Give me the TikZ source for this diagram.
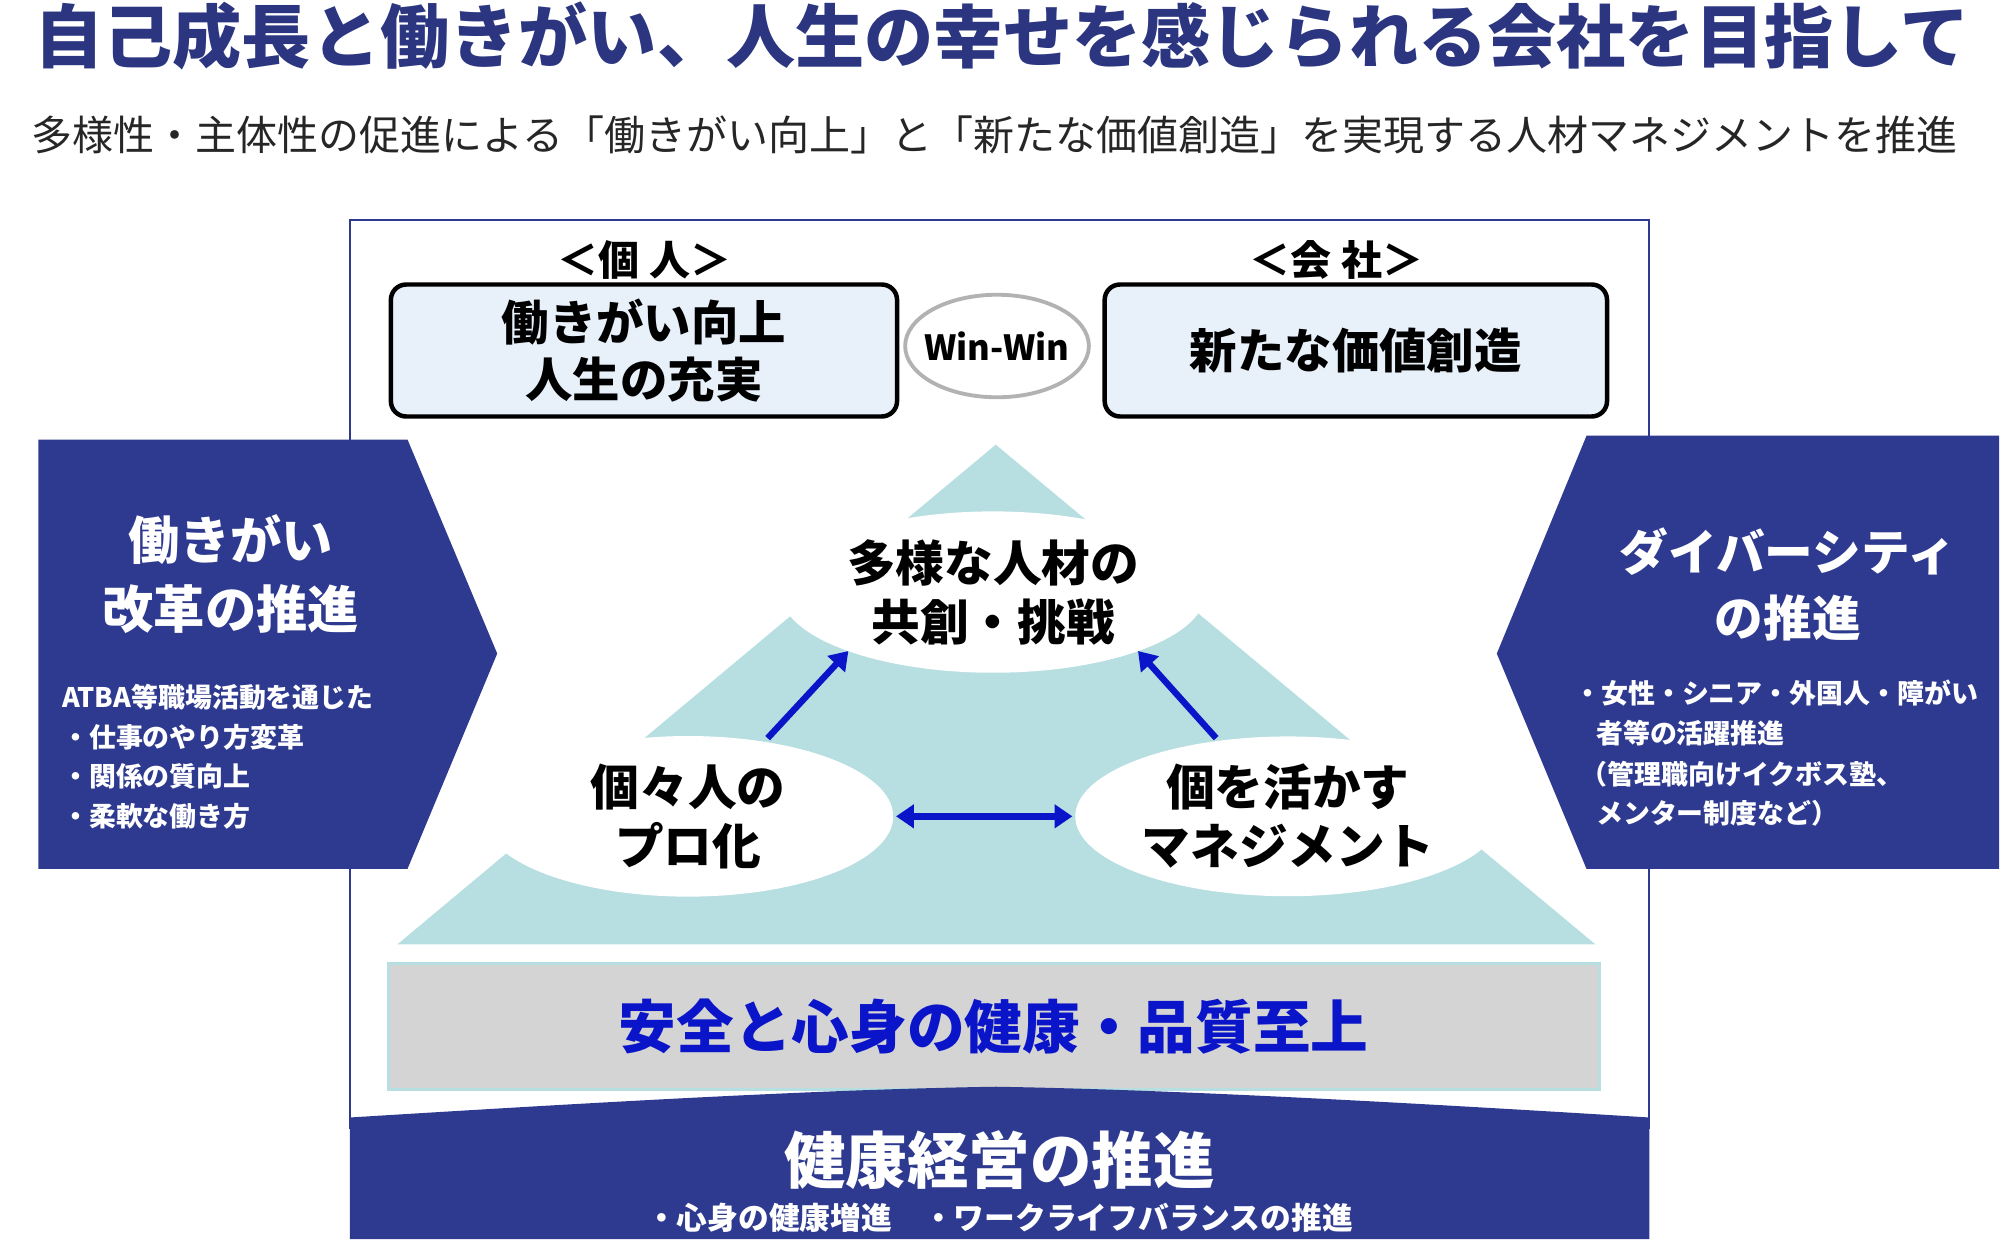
\documentclass[tikz,border=0pt]{standalone}
\usepackage{fontspec}
\setmainfont{Noto Sans CJK JP}
\usetikzlibrary{arrows.meta,shapes.geometric}
\definecolor{navy}{HTML}{2E3A8F}
\definecolor{ttl}{HTML}{2B3580}
\definecolor{teal}{HTML}{B7DEE0}
\definecolor{lbox}{HTML}{E8F0FA}
\definecolor{abl}{HTML}{0A14C8}
\tikzset{
 wb/.style={rounded corners=12pt,draw=black,line width=3.5pt,fill=lbox},
 big/.style={font=\fontsize{37}{45}\selectfont\bfseries,align=center},
 el/.style={ellipse,fill=white,minimum width=320pt,minimum height=124pt,font=\fontsize{38}{46}\selectfont\bfseries,align=center},
 arr/.style={draw=abl,line width=5pt,-{Triangle[length=14pt,width=18pt]}},
 side/.style={fill=navy,draw=none},
 sm/.style={font=\fontsize{21}{25}\selectfont\bfseries,text=white,anchor=west},
}
\begin{document}
\begin{tikzpicture}[x=1pt,y=-1pt]
\useasboundingbox (0,0) rectangle (1563,967);
\node[font=\fontsize{54}{60}\selectfont\bfseries,text=ttl] (title) at (782,28) {自己成長と働きがい、人生の幸せを感じられる会社を目指して};
\node[font=\fontsize{32}{36}\selectfont,text=black!85] (sub) at (776,105) {多様性・主体性の促進による「働きがい向上」と「新たな価値創造」を実現する人材マネジメントを推進};
\draw[navy,line width=1.5pt,fill=white] (273,172) rectangle (1287,880);
\node[font=\fontsize{32}{36}\selectfont\bfseries] (kojin) at (503,203) {＜個 人＞};
\node[font=\fontsize{32}{36}\selectfont\bfseries] (kaisha) at (1043,203) {＜会 社＞};
\node[wb,minimum width=395pt,minimum height=103pt,big] (bl) at (502.5,273.5) {働きがい向上\\人生の充実};
\node[wb,minimum width=392pt,minimum height=103pt,big] (br) at (1058,273.5) {新たな価値創造};
\node[ellipse,draw=gray!60,line width=3pt,fill=white,minimum width=126pt,minimum height=80pt,inner sep=-6pt,font=\fontsize{27}{30}\selectfont\bfseries] (ww) at (778,270) {Win-Win};
\fill[teal] (777,347) coordinate (apex) -- (1245,737) -- (310,737) -- cycle;
\node[fill=black!17,draw=teal,line width=2pt,minimum width=945pt,minimum height=98pt,font=\fontsize{45}{50}\selectfont\bfseries,text=abl] (base) at (775.5,801) {安全と心身の健康・品質至上};
\fill[navy] (273,872) .. controls (500,858) and (650,850) .. (777,848) .. controls (900,850) and (1060,858) .. (1287,872) -- (1287,967) -- (273,967) -- cycle;
\node[font=\fontsize{48}{52}\selectfont\bfseries,text=white] (kk) at (780,905) {健康経営の推進};
\node[font=\fontsize{24}{28}\selectfont\bfseries,text=white] (kk2) at (780,950) {・心身の健康増進　・ワークライフバランスの推進};
\fill[side] (30,343) -- (318,343) -- (388,510) -- (318,678) -- (30,678) -- cycle;
\node[font=\fontsize{40}{54}\selectfont\bfseries,text=white,align=center] (lt) at (180,448) {働きがい\\改革の推進};
\node[sm] (l1) at (45,544) {ATBA等職場活動を通じた};
\node[sm] (l2) at (45,575) {・仕事のやり方変革};
\node[sm] (l3) at (45,606) {・関係の質向上};
\node[sm] (l4) at (45,637) {・柔軟な働き方};
\fill[side] (1238,340) -- (1560,340) -- (1560,678) -- (1238,678) -- (1168,510) -- cycle;
\node[font=\fontsize{38}{52}\selectfont\bfseries,text=white,align=center] (rt) at (1395,456) {ダイバーシティ\\の推進};
\node[sm] (r1) at (1225,541) {・女性・シニア・外国人・障がい};
\node[sm] (r2) at (1242,572) {者等の活躍推進};
\node[sm] (r3) at (1230,604) {（管理職向けイクボス塾、};
\node[sm] (r4) at (1242,635) {メンター制度など）};
\node[el] (top) at (775,462) {多様な人材の\\共創・挑戦};
\node[el] (left) at (537,637) {個々人の\\プロ化};
\node[el] (right) at (1005,637) {個を活かす\\マネジメント};
\coordinate (a1) at (599,576); \coordinate (a2) at (662,508);
\coordinate (b1) at (949,576); \coordinate (b2) at (888,508);
\draw[arr] (a1) -- (a2);
\draw[arr] (b1) -- (b2);
\draw[arr,{Triangle[length=14pt,width=18pt]}-{Triangle[length=14pt,width=18pt]}] (left.east) ++(2,0) coordinate (la) (right.west) ++(-2,0) coordinate (ra) (la) -- (ra);
\end{tikzpicture}
\end{document}
